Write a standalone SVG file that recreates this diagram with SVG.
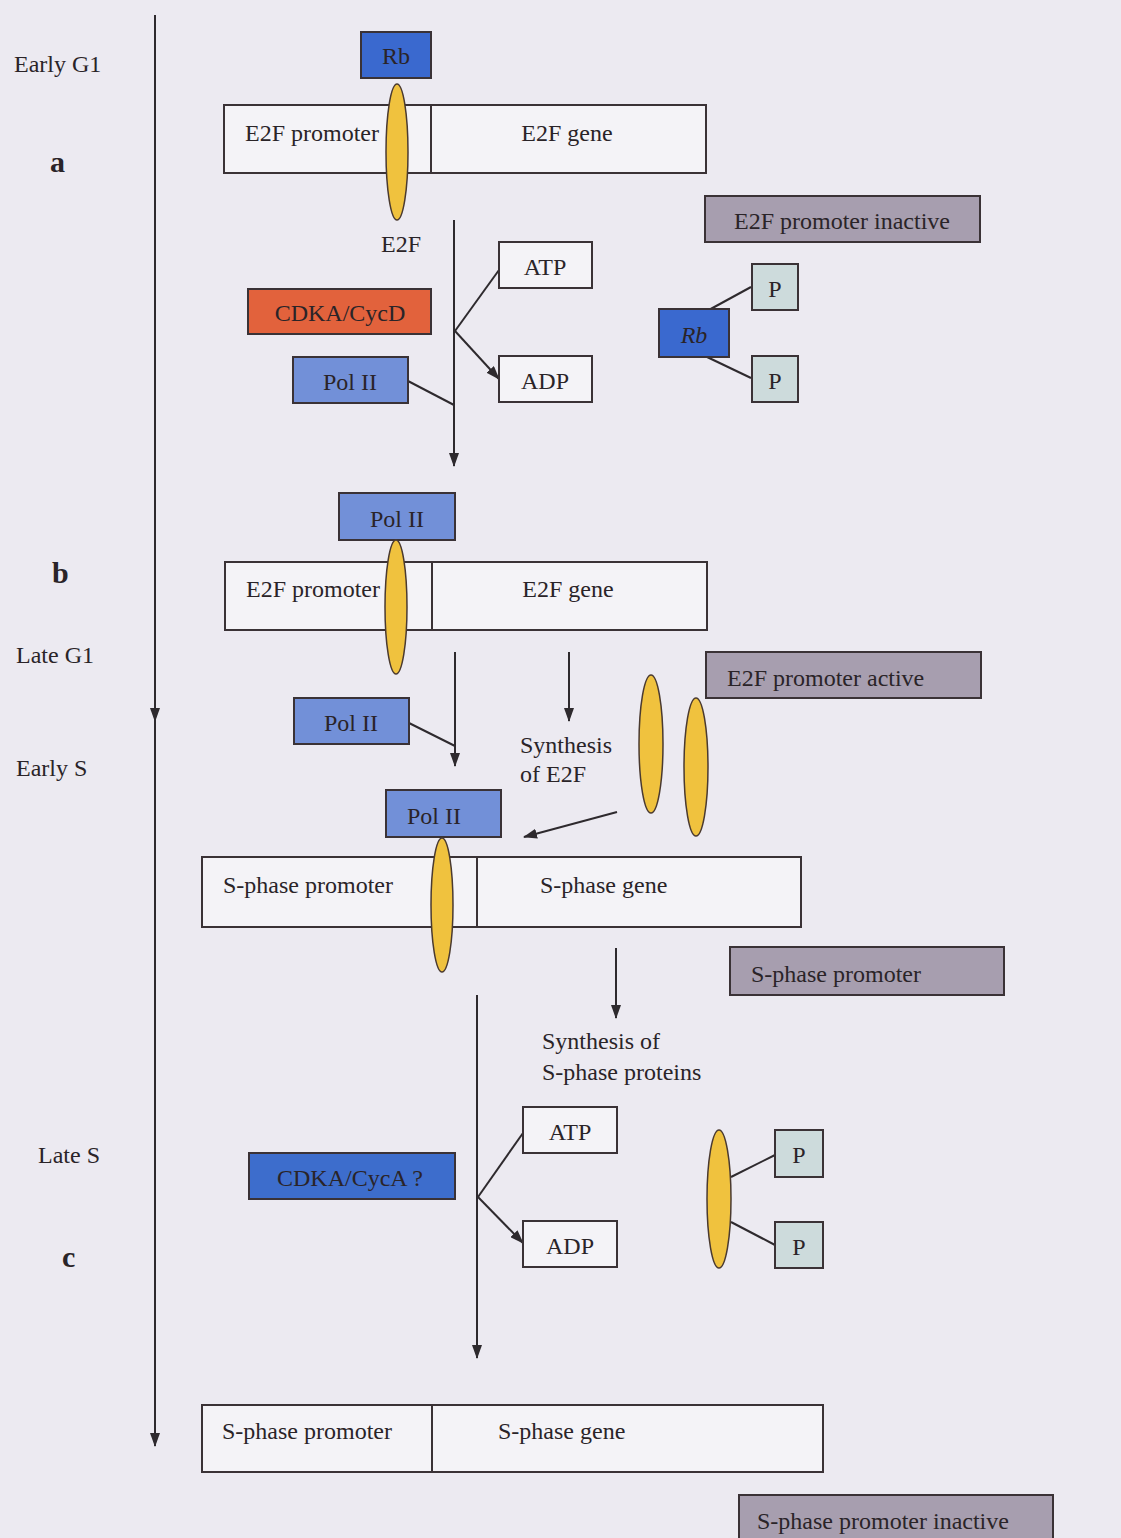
<svg xmlns="http://www.w3.org/2000/svg" width="1121" height="1538" viewBox="0 0 1121 1538">
<defs>
<marker id="ah" viewBox="0 0 14 10" refX="13" refY="5" markerWidth="14" markerHeight="10" markerUnits="userSpaceOnUse" orient="auto">
<path d="M0,0 L14,5 L0,10 z" fill="#2e2a2e"/>
</marker>
<style>
text{font-family:"Liberation Serif","Times New Roman",serif;font-size:24px;fill:#2a2428}
.c{text-anchor:middle}
.big{font-size:30px;font-weight:bold}
rect{stroke:#3a3236;stroke-width:2}
rect.bg{stroke:none;fill:#eceaf1}
.w{fill:#f4f3f7}
.rb{fill:#3a69cf}
.pol{fill:#7290d8}
.cycd{fill:#e2623c}
.cyca{fill:#3d6dcc}
.g{fill:#a79eaf}
.p{fill:#cddbdc}
.ell{fill:#f0c23e;stroke:#4a3a30;stroke-width:1.5}
.ln{stroke:#2e2a2e;stroke-width:2;fill:none}
.arr{stroke:#2e2a2e;stroke-width:2;fill:none;marker-end:url(#ah)}
</style>
</defs>
<rect class="bg" x="0" y="0" width="1121" height="1538"/>

<g id="labels">
<text x="14" y="72">Early G1</text>
<text class="big" x="50" y="172">a</text>
<text class="big" x="52" y="583">b</text>
<text x="16" y="663">Late G1</text>
<text x="16" y="776">Early S</text>
<text x="38" y="1163">Late S</text>
<text class="big" x="62" y="1267">c</text>
</g>

<g id="connectors">
<line class="ln" x1="155" y1="15" x2="155" y2="710"/>
<line class="arr" x1="155" y1="700" x2="155" y2="721"/>
<line class="arr" x1="155" y1="710" x2="155" y2="1446"/>
<line class="arr" x1="454" y1="220" x2="454" y2="466"/>
<line class="ln" x1="499" y1="270" x2="455" y2="331"/>
<line class="arr" x1="455" y1="331" x2="499" y2="379"/>
<line class="ln" x1="408" y1="381" x2="454" y2="405"/>
<line class="ln" x1="707" y1="311" x2="751" y2="287"/>
<line class="ln" x1="705" y1="356" x2="751" y2="378"/>
<line class="arr" x1="455" y1="652" x2="455" y2="766"/>
<line class="arr" x1="569" y1="652" x2="569" y2="721"/>
<line class="ln" x1="409" y1="723" x2="455" y2="746"/>
<line class="arr" x1="617" y1="812" x2="524" y2="837"/>
<line class="arr" x1="616" y1="948" x2="616" y2="1018"/>
<line class="arr" x1="477" y1="995" x2="477" y2="1358"/>
<line class="ln" x1="523" y1="1133" x2="478" y2="1197"/>
<line class="arr" x1="478" y1="1197" x2="523" y2="1243"/>
<line class="ln" x1="731" y1="1177" x2="775" y2="1155"/>
<line class="ln" x1="731" y1="1222" x2="775" y2="1245"/>
</g>

<g id="rb-top"><rect class="rb" x="361" y="32" width="70" height="46"/><text class="c" x="396" y="64">Rb</text></g>

<g id="e2f-construct-a">
<rect class="w" x="224" y="105" width="207" height="68"/>
<rect class="w" x="431" y="105" width="275" height="68"/>
<text x="245" y="141">E2F promoter</text>
<text class="c" x="567" y="141">E2F gene</text>
</g>
<g id="e2f-a"><ellipse class="ell" cx="397" cy="152" rx="11" ry="68"/></g>
<g id="e2f-label-a"><text x="381" y="252">E2F</text></g>

<g id="atp-a"><rect class="w" x="499" y="242" width="93" height="46"/><text class="c" x="545" y="275">ATP</text></g>
<g id="adp-a"><rect class="w" x="499" y="356" width="93" height="46"/><text class="c" x="545" y="389">ADP</text></g>
<g id="cdka-cycd"><rect class="cycd" x="248" y="289" width="183" height="45"/><text class="c" x="340" y="321">CDKA/CycD</text></g>
<g id="pol2-a"><rect class="pol" x="293" y="357" width="115" height="46"/><text class="c" x="350" y="390">Pol II</text></g>

<g id="e2f-inactive"><rect class="g" x="705" y="196" width="275" height="46"/><text class="c" x="842" y="229">E2F promoter inactive</text></g>
<g id="rb-p"><rect class="rb" x="659" y="309" width="70" height="48"/><text class="c" x="694" y="343" font-style="italic">Rb</text></g>
<g id="p1-a"><rect class="p" x="752" y="264" width="46" height="46"/><text class="c" x="775" y="297">P</text></g>
<g id="p2-a"><rect class="p" x="752" y="356" width="46" height="46"/><text class="c" x="775" y="389">P</text></g>

<g id="pol2-b-top"><rect class="pol" x="339" y="493" width="116" height="47"/><text class="c" x="397" y="527">Pol II</text></g>
<g id="e2f-construct-b">
<rect class="w" x="225" y="562" width="207" height="68"/>
<rect class="w" x="432" y="562" width="275" height="68"/>
<text x="246" y="597">E2F promoter</text>
<text class="c" x="568" y="597">E2F gene</text>
</g>
<g id="e2f-b"><ellipse class="ell" cx="396" cy="607" rx="11" ry="67"/></g>

<g id="pol2-b-mid"><rect class="pol" x="294" y="698" width="115" height="46"/><text class="c" x="351" y="731">Pol II</text></g>
<g id="e2f-active"><rect class="g" x="706" y="652" width="275" height="46"/><text x="727" y="686">E2F promoter active</text></g>
<g id="synth-e2f"><text x="520" y="753">Synthesis</text><text x="520" y="782">of E2F</text></g>
<g id="e2f-new1"><ellipse class="ell" cx="651" cy="744" rx="12" ry="69"/></g>
<g id="e2f-new2"><ellipse class="ell" cx="696" cy="767" rx="12" ry="69"/></g>

<g id="pol2-s"><rect class="pol" x="386" y="790" width="115" height="47"/><text class="c" x="434" y="824">Pol II</text></g>
<g id="s-construct-1">
<rect class="w" x="202" y="857" width="275" height="70"/>
<rect class="w" x="477" y="857" width="324" height="70"/>
<text x="223" y="893">S-phase promoter</text>
<text x="540" y="893">S-phase gene</text>
</g>
<g id="e2f-s"><ellipse class="ell" cx="442" cy="905" rx="11" ry="67"/></g>
<g id="s-promoter"><rect class="g" x="730" y="947" width="274" height="48"/><text x="751" y="982">S-phase promoter</text></g>
<g id="synth-s"><text x="542" y="1049">Synthesis of</text><text x="542" y="1080">S-phase proteins</text></g>

<g id="cdka-cyca"><rect class="cyca" x="249" y="1153" width="206" height="46"/><text class="c" x="350" y="1186">CDKA/CycA ?</text></g>
<g id="atp-c"><rect class="w" x="523" y="1107" width="94" height="46"/><text class="c" x="570" y="1140">ATP</text></g>
<g id="adp-c"><rect class="w" x="523" y="1221" width="94" height="46"/><text class="c" x="570" y="1254">ADP</text></g>
<g id="e2f-c"><ellipse class="ell" cx="719" cy="1199" rx="12" ry="69"/></g>
<g id="p1-c"><rect class="p" x="775" y="1130" width="48" height="47"/><text class="c" x="799" y="1163">P</text></g>
<g id="p2-c"><rect class="p" x="775" y="1222" width="48" height="46"/><text class="c" x="799" y="1255">P</text></g>

<g id="s-construct-2">
<rect class="w" x="202" y="1405" width="230" height="67"/>
<rect class="w" x="432" y="1405" width="391" height="67"/>
<text x="222" y="1439">S-phase promoter</text>
<text x="498" y="1439">S-phase gene</text>
</g>
<g id="s-inactive"><rect class="g" x="739" y="1495" width="314" height="46"/><text x="757" y="1529">S-phase promoter inactive</text></g>
</svg>
